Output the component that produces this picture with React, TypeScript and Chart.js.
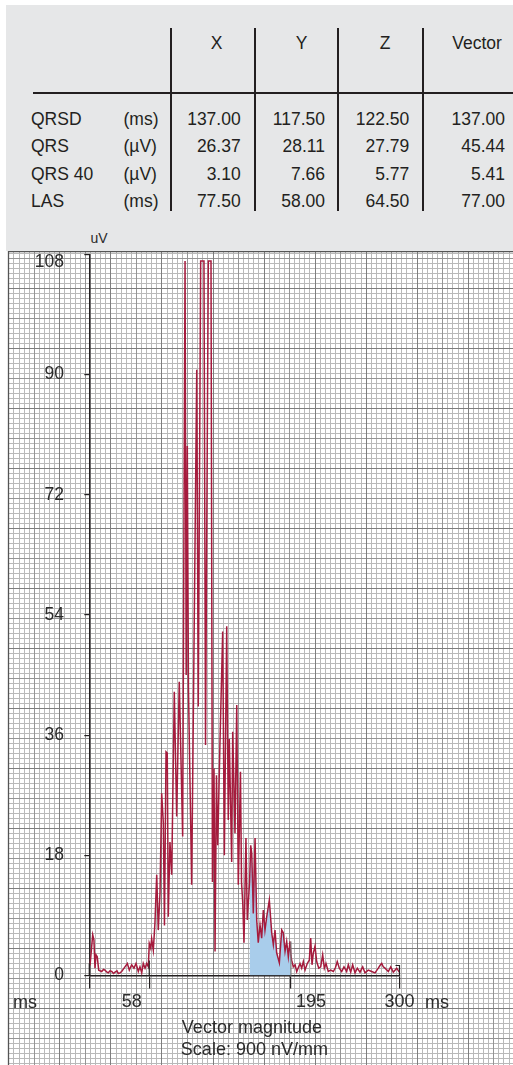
import React, { useEffect, useRef } from 'react';
import { Chart, registerables } from 'chart.js';

Chart.register(...registerables);

// ---------- table data ----------
const tableColumns = ['X', 'Y', 'Z', 'Vector'];
const rowNames = ['QRSD', 'QRS', 'QRS 40', 'LAS'];
const rowUnits = ['(ms)', '(µV)', '(µV)', '(ms)'];
const valuesX = ['137.00', '26.37', '3.10', '77.50'];
const valuesY = ['117.50', '28.11', '7.66', '58.00'];
const valuesZ = ['122.50', '27.79', '5.77', '64.50'];
const valuesVector = ['137.00', '45.44', '5.41', '77.00'];

// ---------- chart data ----------
const timeMs = [
  0.7, 3.3, 4.5, 5.5, 6.5, 7.7, 9.1, 12.0, 13.7, 15.2, 17.1, 18.4, 20.0, 21.7, 23.4, 24.9,
  26.8, 28.0, 29.7, 31.3, 33.1, 34.5, 36.8, 38.7, 41.0, 43.2, 45.2, 47.4, 49.0, 50.7, 52.2,
  53.9, 55.5, 57.1, 58.0, 59.4, 60.3, 61.9, 63.5, 65.2, 66.7, 68.4, 70.0, 71.6, 72.7, 74.2,
  75.4, 76.4, 78.0, 79.7, 82.2, 84.5, 87.0, 90.3, 92.6, 93.7, 94.8, 95.9, 99.0, 103.9, 105.4,
  107.7, 110.9, 112.4, 115.1, 117.7, 119.1, 120.6, 121.6, 123.0, 124.2, 126.4, 129.0, 130.6,
  132.9, 134.4, 135.4, 137.7, 138.7, 140.9, 142.6, 144.1, 146.2, 147.2, 148.4, 149.6, 151.5,
  152.8, 155.0, 156.1, 157.1, 158.6, 160.3, 161.9, 163.4, 165.1, 166.7, 168.3, 169.9, 171.6,
  174.1, 176.4, 178.0, 179.6, 181.2, 183.8, 186.1, 187.6, 189.3, 190.9, 192.5, 194.1, 195.0,
  195.7, 197.3, 199.0, 200.6, 203.8, 205.4, 207.0, 208.6, 210.8, 212.8, 214.1, 215.4, 216.6,
  218.3, 219.9, 221.9, 223.8, 225.7, 227.3, 228.9, 231.1, 233.5, 236.0, 238.1, 239.8, 241.8,
  244.1, 246.3, 248.9, 250.5, 252.8, 254.7, 257.0, 259.2, 261.8, 264.4, 266.6, 269.8, 273.1,
  276.3, 279.5, 281.1, 282.8, 284.3, 286.0, 289.2, 291.5, 294.0, 297.3, 299.8,
];
const magnitudeUv = [
  1.5, 6.1, 5.3, 1.1, 3.1, 2.8, 0.8, 0.6, 0.9, 0.8, 0.5, 0.4, 0.7, 0.6, 0.3, 0.5,
  0.7, 0.3, 0.4, 0.6, 1.0, 1.3, 1.8, 0.8, 1.6, 1.1, 1.8, 0.6, 1.3, 0.4, 1.8,
  1.1, 1.8, 1.3, 4.8, 4.1, 5.5, 3.8, 7.9, 15.1, 6.8, 12.4, 27.3, 22.8, 7.5, 33.5,
  33.3, 8.8, 20.0, 15.1, 42.5, 23.8, 44.0, 20.8, 107, 45.0, 79.3, 43.0, 13.6, 90.7, 40.3,
  107, 107, 34.5, 107, 107, 14.0, 31.0, 3.6, 30.0, 19.5, 35.0, 51.5, 18.0,
  52.3, 23.3, 35.4, 17.0, 36.5, 21.3, 40.5, 13.6, 30.5, 14.0, 10.9, 4.9, 20.6,
  8.3, 14.0, 19.5, 18.3, 9.3, 20.6, 8.3, 4.9, 7.6, 5.6, 9.8, 6.8, 8.8,
  11.3, 6.4, 4.6, 6.8, 3.4, 1.9, 6.8, 6.4, 3.6, 5.1, 2.8, 5.1, 3.0,
  2.3, 1.3, 1.6, 0.6, 1.8, 1.1, 2.1, 0.8, 1.8, 2.3, 5.6, 1.6, 3.3,
  4.4, 2.1, 1.1, 1.3, 3.1, 1.1, 1.8, 0.6, 0.8, 0.6, 1.2, 2.1, 1.1,
  0.6, 1.3, 0.6, 1.6, 0.5, 1.6, 0.4, 1.1, 0.5, 1.3, 0.4, 0.8, 0.6,
  0.4, 1.1, 1.5, 1.8, 1.3, 1.1, 0.6, 1.3, 0.5, 1.1, 0.5,
];
const xTickValues = [0, 58, 195, 300];
const xMin = 0;
const xMax = 300;
const yMin = 0;
const yMax = 108;
const yStep = 18;
const lasStartMs = 155;
const lasEndMs = 195;
const xTitleLines = ['Vector magnitude', 'Scale: 900 nV/mm'];

// ---------- styling ----------
const FONT = '"Liberation Sans", Arial, Helvetica, sans-serif';
const INK = '#231f20';
const AXIS_TEXT = '#2b2b2b';
const TRACE = '#a51b3d';
const LAS_FILL = '#a9cdeb';

const snap = (v: number) => Math.round(v) + 0.5;

const paperPlugin = {
  id: 'paper',
  beforeDraw(chart: any) {
    const { ctx, width, height } = chart;
    ctx.save();
    ctx.fillStyle = '#ffffff';
    ctx.fillRect(0, 0, width, height);
    const x0 = 2.3;
    const sx = 5.105;
    const y0 = 37.3;
    const sy = 5.0;
    const colors = ['#b9b9b9', '#959595', '#7e7e7e'];
    for (const pass of [0, 1, 2]) {
      ctx.strokeStyle = colors[pass];
      ctx.lineWidth = 1;
      ctx.beginPath();
      for (let i = 0; x0 + i * sx <= width + 1; i++) {
        const lvl = i % 10 === 0 ? 2 : i % 5 === 0 ? 1 : 0;
        if (lvl !== pass) continue;
        const x = snap(x0 + i * sx);
        ctx.moveTo(x, 0);
        ctx.lineTo(x, height);
      }
      for (let k = -8; y0 + k * sy <= height + 1; k++) {
        const y = y0 + k * sy;
        if (y < 1) continue;
        const m = ((k % 12) + 12) % 12;
        const lvl = m === 0 ? 2 : m === 6 ? 1 : 0;
        if (lvl !== pass) continue;
        const yy = snap(y);
        ctx.moveTo(x0, yy);
        ctx.lineTo(width, yy);
      }
      ctx.stroke();
    }
    ctx.strokeStyle = '#555';
    ctx.lineWidth = 1.3;
    ctx.beginPath();
    ctx.moveTo(x0, 0.7);
    ctx.lineTo(width, 0.7);
    ctx.moveTo(snap(x0), 0);
    ctx.lineTo(snap(x0), height);
    ctx.stroke();
    ctx.restore();
  },
};

// small upward marks on the time axis at the tick values
const tickRisePlugin = {
  id: 'tickRise',
  afterDatasetsDraw(chart: any) {
    const xs = chart.scales.x;
    const ys = chart.scales.y;
    const base = ys.getPixelForValue(0);
    const rise: Record<number, number> = { 0: 12, 58: 15, 195: 34, 300: 10 };
    const { ctx } = chart;
    ctx.save();
    for (const v of xTickValues) {
      const px = xs.getPixelForValue(v);
      ctx.strokeStyle = v === 195 ? '#7a7a7a' : INK;
      ctx.lineWidth = 1.2;
      ctx.beginPath();
      ctx.moveTo(px, base);
      ctx.lineTo(px, base - rise[v]);
      if (v === 300) ctx.lineTo(px - 4, base - rise[v]);
      ctx.stroke();
    }
    ctx.restore();
  },
};

function xTickLabel(v: number): string {
  if (v === 58) return '58' + '       ';
  if (v === 195) return '        ' + '195';
  if (v === 0) return '';
  return String(v);
}

function Txt(props: { x: number; y: number; align: 'left' | 'center' | 'right'; size: number; color?: string; children: React.ReactNode }) {
  const tx = props.align === 'right' ? '-100%' : props.align === 'center' ? '-50%' : '0';
  return (
    <span
      style={{
        position: 'absolute',
        left: props.x,
        top: props.y,
        transform: `translate(${tx}, -50%)`,
        fontSize: props.size,
        lineHeight: 1,
        whiteSpace: 'nowrap',
        color: props.color || INK,
        fontFamily: FONT,
      }}
    >
      {props.children}
    </span>
  );
}

export default function App() {
  const canvasRef = useRef<HTMLCanvasElement>(null);

  useEffect(() => {
    const points = timeMs.map((t, i) => ({ x: t, y: magnitudeUv[i] }));
    const lasPoints = points.filter((p) => p.x >= lasStartMs && p.x <= lasEndMs);
    const chart = new Chart(canvasRef.current as HTMLCanvasElement, {
      type: 'line',
      data: {
        datasets: [
          {
            data: points,
            borderColor: TRACE,
            borderWidth: 1.5,
            pointRadius: 0,
            fill: false,
            tension: 0,
            order: 1,
          },
          {
            data: lasPoints,
            borderWidth: 0,
            borderColor: 'rgba(0,0,0,0)',
            backgroundColor: LAS_FILL,
            pointRadius: 0,
            fill: 'origin',
            tension: 0,
            order: 2,
          },
        ],
      },
      options: {
        animation: false,
        responsive: false,
        devicePixelRatio: 1,
        layout: { padding: { top: 3.3, right: 113.5, bottom: 0, left: 0 }, autoPadding: false },
        plugins: {
          legend: { display: false },
          tooltip: { enabled: false },
          title: { display: false },
        },
        scales: {
          x: {
            type: 'linear',
            min: xMin,
            max: xMax,
            afterBuildTicks: (s: any) => {
              s.ticks = xTickValues.map((v) => ({ value: v }));
            },
            afterFit: (s: any) => {
              s.height = 89.5;
              s.paddingLeft = 0;
              s.paddingRight = 0;
              s.paddingTop = 0;
              s.paddingBottom = 0;
            },
            ticks: {
              autoSkip: false,
              maxRotation: 0,
              padding: 3,
              color: AXIS_TEXT,
              font: { family: FONT, size: 18 },
              callback: (v: any) => xTickLabel(Number(v)),
            },
            grid: { drawOnChartArea: false, drawTicks: true, tickLength: 13, color: INK, lineWidth: 1.2 },
            border: { display: true, color: INK, width: 1.5 },
            title: {
              display: true,
              text: ['   ' + xTitleLines[0], '    ' + xTitleLines[1]],
              color: AXIS_TEXT,
              font: { family: FONT, size: 18, lineHeight: 22 / 18 },
              padding: { top: 0, bottom: 4 },
            },
          },
          y: {
            type: 'linear',
            min: yMin,
            max: yMax,
            afterFit: (s: any) => {
              s.width = 83.3;
              s.paddingLeft = 0;
              s.paddingRight = 0;
              s.paddingTop = 0;
              s.paddingBottom = 0;
            },
            ticks: {
              stepSize: yStep,
              padding: 20.3,
              color: AXIS_TEXT,
              font: { family: FONT, size: 17.5, lineHeight: 0.85 },
              callback: (v: any) => (Number(v) === yMax ? ['', String(v)] : String(v)),
            },
            grid: { drawOnChartArea: false, drawTicks: true, tickLength: 5, color: INK, lineWidth: 1.2 },
            border: { display: true, color: INK, width: 1.5 },
          },
        },
      } as any,
      plugins: [paperPlugin, tickRisePlugin],
    });
    return () => chart.destroy();
  }, []);

  const colRight = [240.7, 325, 409.3, 505];
  const headerCenter = [216.7, 301.7, 385, 477];
  const rowY = [120, 146.7, 175, 201.7];
  const vLines = [171, 255, 338.3, 422.7];
  const columns = [valuesX, valuesY, valuesZ, valuesVector];

  return (
    <div
      style={{
        position: 'absolute',
        left: 0,
        top: 0,
        width: 513,
        height: 1065,
        background: '#ffffff',
        overflow: 'hidden',
        fontFamily: FONT,
      }}
    >
      <div style={{ position: 'absolute', left: 6, top: 5, width: 507, height: 246, background: '#e6e7e8' }} />
      {vLines.map((x, i) => (
        <div key={'v' + i} style={{ position: 'absolute', left: x - 1, top: 28, width: 2, height: 183, background: INK }} />
      ))}
      <div style={{ position: 'absolute', left: 33, top: 92.3, width: 480, height: 2, background: INK }} />
      {tableColumns.map((c, i) => (
        <Txt key={'h' + i} x={headerCenter[i]} y={44} align="center" size={17.5}>
          {c}
        </Txt>
      ))}
      {rowNames.map((r, i) => (
        <React.Fragment key={'r' + i}>
          <Txt x={31} y={rowY[i]} align="left" size={17.5}>
            {r}
          </Txt>
          <Txt x={123.5} y={rowY[i]} align="left" size={17.5}>
            {rowUnits[i]}
          </Txt>
          {columns.map((col, j) => (
            <Txt key={'c' + j} x={colRight[j]} y={rowY[i]} align="right" size={17.5}>
              {col[i]}
            </Txt>
          ))}
        </React.Fragment>
      ))}
      <canvas
        ref={canvasRef}
        width={507}
        height={814}
        style={{ position: 'absolute', left: 6, top: 251, width: 507, height: 814 }}
      />
      <Txt x={90.5} y={238} align="left" size={14} color={AXIS_TEXT}>
        uV
      </Txt>
      <Txt x={13} y={1002} align="left" size={18} color={AXIS_TEXT}>
        ms
      </Txt>
      <Txt x={425} y={1002} align="left" size={18} color={AXIS_TEXT}>
        ms
      </Txt>
    </div>
  );
}
